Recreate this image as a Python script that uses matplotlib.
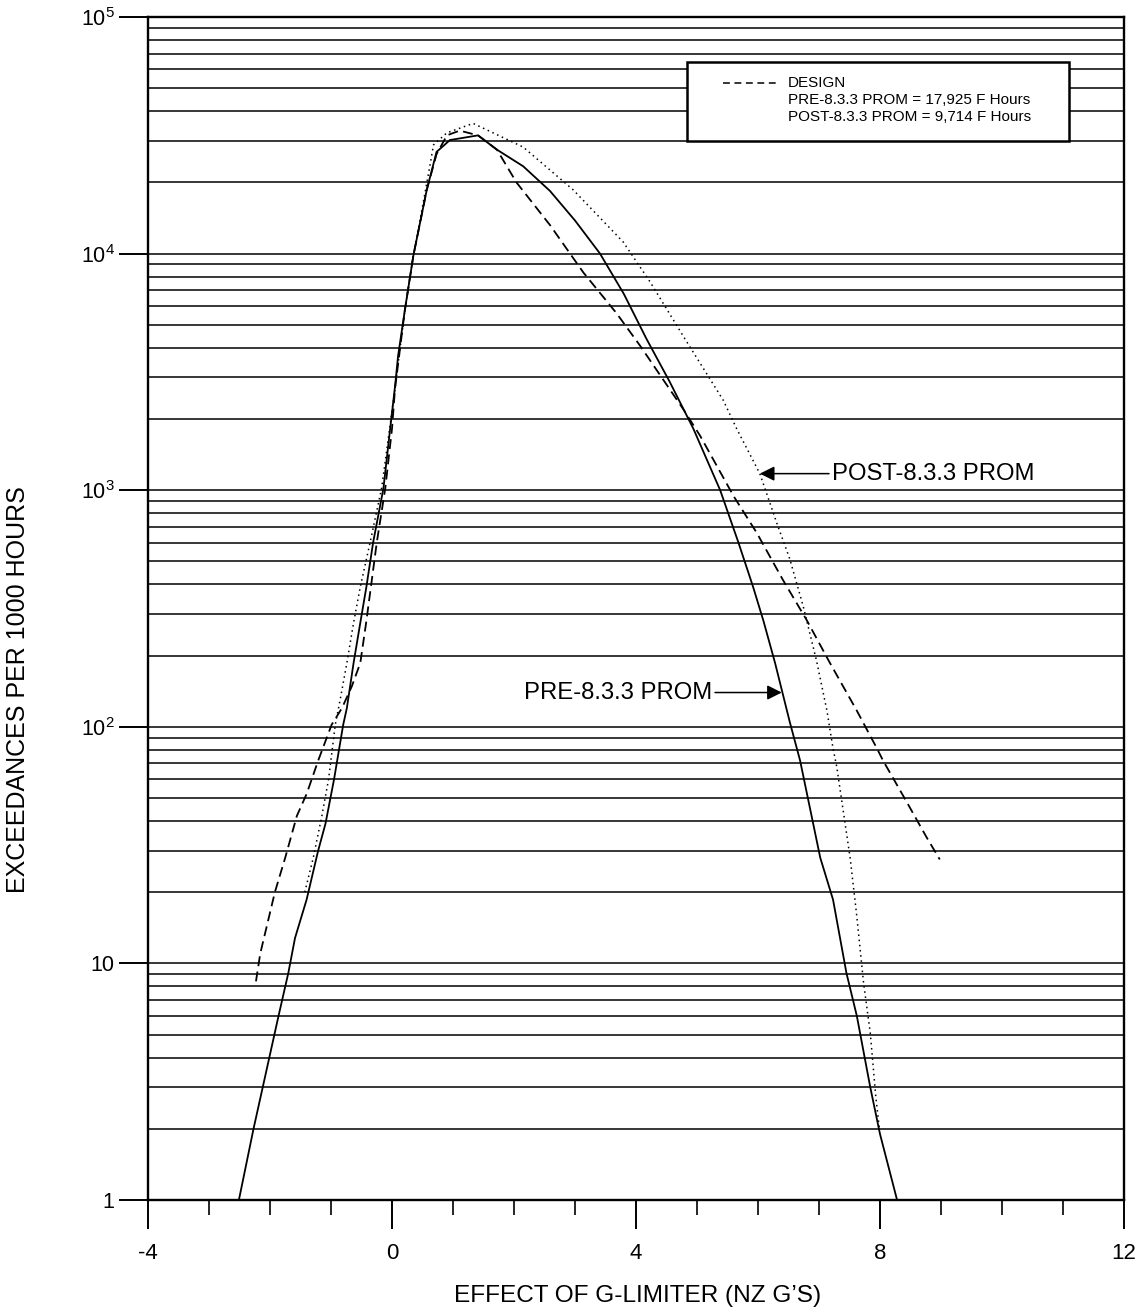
import matplotlib
matplotlib.use('Agg')
import matplotlib.pyplot as plt
import numpy as np
from matplotlib.ticker import FixedLocator, LogLocator, NullFormatter
from matplotlib.patches import Rectangle

plt.rcParams['font.family'] = ['Liberation Sans', 'DejaVu Sans']
plt.rcParams['mathtext.fontset'] = 'custom'
plt.rcParams['mathtext.rm'] = 'Liberation Sans'
plt.rcParams['mathtext.it'] = 'Liberation Sans:italic'

# PRE-8.3.3 PROM (solid)
pre_x = [-2.51, -2.27, -1.86, -1.70, -1.59, -1.40, -1.21, -1.09, -0.95, -0.80, -0.74,
         -0.63, -0.52, -0.42, -0.31, -0.14, -0.03, 0.05, 0.10, 0.21, 0.35, 0.57,
         0.73, 0.95, 1.41, 1.72, 2.15, 2.59, 3.00, 3.41, 3.80, 4.17, 4.55, 4.94,
         5.38, 5.68, 5.92, 6.09, 6.28, 6.52, 6.69, 7.02, 7.23, 7.45, 7.62, 7.84,
         8.00, 8.28]
pre_y = [1.0, 2.0, 6.0, 9.1, 12.8, 18.6, 30, 39, 60, 102, 120,
         186, 275, 390, 600, 1020, 1820, 2750, 3700, 5750, 9800, 18600,
         26900, 30200, 31600, 27500, 23400, 18400, 13800, 10000, 6760, 4370, 2880, 1820,
         1000, 600, 390, 280, 186, 105, 72, 28, 18.6, 9.1, 6.0, 3.0,
         1.9, 1.0]

# DESIGN (dashed)
design_x = [-2.23, -2.16, -1.92, -1.75, -1.56, -1.40, -1.21, -0.99, -0.82, -0.66,
            -0.52, -0.42, -0.25, -0.11, 0.00, 0.05, 0.21, 0.35, 0.57, 0.73, 0.90,
            1.11, 1.41, 1.72, 2.04, 2.59, 3.14, 3.68, 4.07, 4.78, 5.05, 5.60, 5.98,
            6.41, 6.80, 7.18, 7.62, 7.95, 8.05, 8.44, 8.77, 8.98]
design_y = [8.4, 11, 20, 28, 42, 52, 72, 102, 120, 148,
            186, 280, 600, 1020, 1820, 2700, 5750, 9800, 18600, 26300, 31600,
            33100, 31600, 27500, 20000, 13200, 8300, 5600, 4070, 2190, 1700, 944, 660,
            417, 282, 186, 117, 81, 72, 48, 33.9, 27.5]

# POST-8.3.3 PROM (dotted)
post_x = [-1.43, -1.29, -1.15, -1.04, -0.93, -0.85, -0.74, -0.63, -0.52, -0.36,
          -0.17, 0.05, 0.21, 0.35, 0.50, 0.62, 0.68, 0.90, 1.33, 2.15, 2.97, 3.79,
          4.23, 4.80, 5.43, 5.65, 6.03, 6.31, 6.52, 6.74, 6.96, 7.13, 7.23, 7.29,
          7.51, 7.62, 7.73, 7.84, 7.93, 7.99]
post_y = [20, 28, 42, 60, 102, 130, 186, 275, 390, 600,
          1020, 2700, 5750, 9800, 15800, 23400, 28800, 32400, 35500, 28200, 18600, 11200,
          7600, 4370, 2400, 1820, 1175, 724, 513, 324, 190, 117, 81, 68,
          28, 15.8, 8.3, 5.1, 2.75, 2.0]

x_ticks = [-4, 0, 4, 8, 12]
y_ticks = [1, 10, 100, 1000, 10000, 100000]
y_tick_labels = ['1', '10', r'$10^2$', r'$10^3$', r'$10^4$', r'$10^5$']

legend_lines = ['DESIGN', 'PRE-8.3.3 PROM = 17,925 F Hours', 'POST-8.3.3 PROM = 9,714 F Hours']

W, H = 1144, 1315
fig = plt.figure(figsize=(W / 100, H / 100), dpi=100)
ax = fig.add_axes([148 / W, 115 / H, 976 / W, 1183 / H])

ax.plot(pre_x, pre_y, color='black', lw=1.3)
ax.plot(design_x, design_y, color='black', lw=1.3, dashes=(5.5, 3))
ax.plot(post_x, post_y, color='black', lw=1.1, dashes=(1, 2.4))

ax.set_yscale('log')
ax.set_xlim(-4, 12)
ax.set_ylim(1, 1e5)

# оси и сетка
ax.xaxis.set_major_locator(FixedLocator(x_ticks))
ax.xaxis.set_minor_locator(FixedLocator(np.arange(-4, 13, 1)))
ax.set_xticklabels([str(t) for t in x_ticks])
ax.yaxis.set_major_locator(FixedLocator(y_ticks))
ax.set_yticklabels(y_tick_labels)
ax.yaxis.set_minor_locator(LogLocator(base=10, subs=np.arange(2, 10)))
ax.yaxis.set_minor_formatter(NullFormatter())
ax.grid(which='both', axis='y', color='black', lw=1.1)
ax.tick_params(axis='x', which='major', direction='out', length=21, width=1.4,
               labelsize=16, pad=10)
ax.tick_params(axis='x', which='minor', direction='out', length=11, width=1.2)
ax.tick_params(axis='y', which='major', direction='out', length=21, width=1.4,
               labelsize=15.5, pad=3)
ax.tick_params(axis='y', which='minor', length=0)
for s in ax.spines.values():
    s.set_linewidth(1.7)

fig.text(638 / W, 1 - 1296 / H, "EFFECT OF G-LIMITER (NZ G\u2019S)", fontsize=17.6,
         ha='center', va='center')
fig.text(18 / W, 1 - 690 / H, 'EXCEEDANCES PER 1000 HOURS', fontsize=18,
         rotation=90, ha='center', va='center')

# подписи со стрелками
arrow = dict(arrowstyle='-|>', mutation_scale=22, lw=1.1, color='black', shrinkA=0, shrinkB=0)
ax.annotate('POST-8.3.3 PROM', xy=(6.03, 1175), xytext=(7.21, 1175), fontsize=17.2,
            ha='left', va='center', arrowprops=arrow)
ax.annotate('PRE-8.3.3 PROM', xy=(6.39, 139.6), xytext=(5.25, 139.6), fontsize=17.2,
            ha='right', va='center', arrowprops=arrow)

# легенда
def fx(px):
    return (px - 148) / 976

def fy(py):
    return (1200 - py) / 1183

ax.add_patch(Rectangle((fx(687), fy(141)), fx(1069) - fx(687), fy(62) - fy(141),
                       transform=ax.transAxes, facecolor='white', edgecolor='black',
                       lw=1.8, zorder=5))
ax.plot([fx(723), fx(777)], [fy(83), fy(83)], transform=ax.transAxes, color='black',
        lw=1.1, dashes=(4.5, 3), zorder=6)
for i, t in enumerate(legend_lines):
    ax.text(fx(788), fy(83 + 17 * i), t, transform=ax.transAxes, fontsize=11,
            ha='left', va='center', zorder=6)

fig.savefig('out.png', dpi=100)
